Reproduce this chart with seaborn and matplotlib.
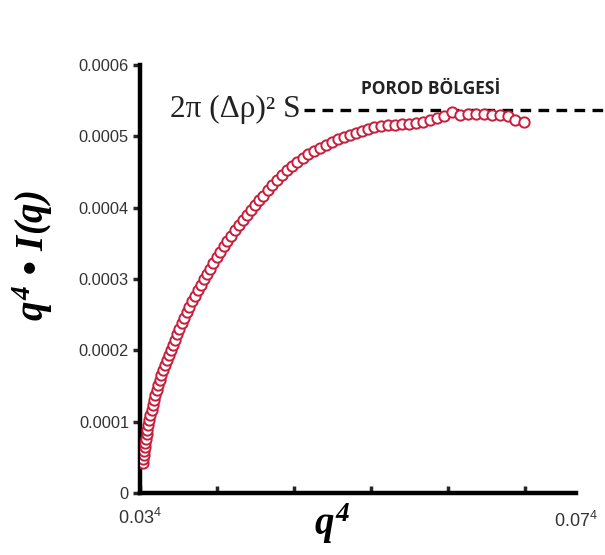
import numpy as np
import pandas as pd
import matplotlib
matplotlib.use("Agg")
import matplotlib.pyplot as plt
import seaborn as sns

# ---- data (x in tick-spacing units from 0.03^4, y = q^4 * I(q)) ----
x_vals = [0.039, 0.039, 0.052, 0.052, 0.065, 0.065, 0.078, 0.091, 0.091, 0.104,
          0.117, 0.130, 0.156, 0.169, 0.182, 0.195, 0.221, 0.234, 0.260, 0.273,
          0.299, 0.325, 0.351, 0.377, 0.403, 0.429, 0.455, 0.481, 0.506, 0.545,
          0.571, 0.610, 0.636, 0.675, 0.714, 0.753, 0.792, 0.831, 0.870, 0.909,
          0.948, 1.000, 1.039, 1.091, 1.130, 1.182, 1.234, 1.286, 1.338, 1.390,
          1.442, 1.494, 1.545, 1.597, 1.662, 1.714, 1.779, 1.844, 1.909, 1.974,
          2.039, 2.117, 2.182, 2.260, 2.338, 2.416, 2.494, 2.571, 2.649, 2.727,
          2.805, 2.883, 2.961, 3.039, 3.130, 3.221, 3.312, 3.403, 3.494, 3.584,
          3.675, 3.766, 3.857, 3.948, 4.052, 4.156, 4.260, 4.364, 4.468, 4.571,
          4.675, 4.779, 4.870, 4.987]
y_vals = [0.420e-4, 0.476e-4, 0.531e-4, 0.587e-4, 0.643e-4, 0.699e-4, 0.755e-4, 0.825e-4, 0.881e-4, 0.951e-4,
          1.021e-4, 1.091e-4, 1.161e-4, 1.231e-4, 1.301e-4, 1.371e-4, 1.441e-4, 1.510e-4, 1.580e-4, 1.650e-4,
          1.720e-4, 1.790e-4, 1.860e-4, 1.930e-4, 2.000e-4, 2.070e-4, 2.140e-4, 2.224e-4, 2.294e-4, 2.378e-4,
          2.448e-4, 2.531e-4, 2.601e-4, 2.685e-4, 2.755e-4, 2.839e-4, 2.909e-4, 2.993e-4, 3.077e-4, 3.147e-4,
          3.231e-4, 3.315e-4, 3.385e-4, 3.469e-4, 3.538e-4, 3.608e-4, 3.692e-4, 3.762e-4, 3.832e-4, 3.902e-4,
          3.972e-4, 4.042e-4, 4.112e-4, 4.168e-4, 4.252e-4, 4.322e-4, 4.392e-4, 4.462e-4, 4.531e-4, 4.587e-4,
          4.643e-4, 4.699e-4, 4.755e-4, 4.797e-4, 4.839e-4, 4.881e-4, 4.923e-4, 4.965e-4, 4.993e-4, 5.021e-4,
          5.049e-4, 5.077e-4, 5.105e-4, 5.133e-4, 5.147e-4, 5.161e-4, 5.161e-4, 5.175e-4, 5.175e-4, 5.189e-4,
          5.203e-4, 5.231e-4, 5.259e-4, 5.287e-4, 5.343e-4, 5.301e-4, 5.315e-4, 5.315e-4, 5.315e-4, 5.301e-4,
          5.301e-4, 5.287e-4, 5.231e-4, 5.203e-4]
porod_level = 0.000537
y_ticks = [0, 0.0001, 0.0002, 0.0003, 0.0004, 0.0005, 0.0006]
y_tick_labels = ["0", "0.0001", "0.0002", "0.0003", "0.0004", "0.0005", "0.0006"]
x_start_label = r"$\mathsf{0.03^4}$"
x_end_label = r"$\mathsf{0.07^4}$"
porod_text = "POROD BÖLGESİ"
formula_text = "2π (Δρ)² S"

df = pd.DataFrame({"x": x_vals, "y": y_vals})

sns.set_theme(style="white")
plt.rcParams["font.family"] = ["Liberation Sans", "DejaVu Sans"]
plt.rcParams["mathtext.fontset"] = "custom"
plt.rcParams["mathtext.rm"] = "Liberation Serif:bold:italic"
plt.rcParams["mathtext.it"] = "Liberation Serif:bold:italic"
plt.rcParams["mathtext.bf"] = "Liberation Serif:bold:italic"
plt.rcParams["mathtext.sf"] = "Liberation Sans"

fig = plt.figure(figsize=(6.05, 5.55), dpi=100)
ax = fig.add_axes([140 / 605, 1 - 493 / 555, (576 - 140) / 605, (493 - 65) / 555])

red = "#c81e3c"
ax.axhline(porod_level, xmin=(304 - 140) / (576 - 140), xmax=(605 - 140) / (576 - 140),
           color="black", lw=2.4, ls=(0, (3.2, 2.2)), clip_on=False, zorder=1)
sns.scatterplot(data=df, x="x", y="y", ax=ax, marker="o", s=55,
                facecolor="white", edgecolor=red, linewidth=1.4, zorder=3, legend=False)

ax.set_xlim(0, 5.66)
ax.set_ylim(0, 0.0006)

for s in ["top", "right"]:
    ax.spines[s].set_visible(False)
for s in ["left", "bottom"]:
    ax.spines[s].set_linewidth(3.2)
    ax.spines[s].set_color("black")

ax.set_yticks(y_ticks)
ax.set_yticklabels(y_tick_labels)
ax.tick_params(axis="y", direction="out", length=5, width=2.5, pad=3,
               labelsize=11.8, labelcolor="#333333", left=True)
ax.set_yticks([0.0006], minor=True)
ax.tick_params(axis="y", which="minor", direction="in", length=9, width=3, left=True)

ax.set_xticks([0, 1, 2, 3, 4, 5])
ax.set_xticklabels([x_start_label, "", "", "", "", ""])
ax.set_xticks([5.66], minor=True)
ax.set_xticklabels([x_end_label], minor=True)
ax.tick_params(axis="x", which="major", direction="in", length=5, width=2.5, pad=11,
               labelsize=13, labelcolor="#333333", bottom=True)
ax.tick_params(axis="x", which="minor", length=0, pad=13, labelsize=13,
               labelcolor="#333333", bottom=True)

ax.set_xlabel(r"$q^{4}$", fontsize=28, color="black")
ax.xaxis.set_label_coords(0.44, -0.02)
ax.set_ylabel(r"$q^{4}$ • $I(q)$", fontsize=28, color="black", fontweight="bold")
ax.yaxis.set_label_coords(-0.195, 0.555)

ax.text(2.08, porod_level, formula_text, ha="right", va="center",
        fontsize=22.5, family="Liberation Serif", color="#222222")
ax.text(3.77, 0.000567, porod_text, ha="center", va="center",
        fontsize=12.5, family="Open Sans", fontweight="bold", color="#222222")

fig.savefig("out.png", dpi=100, facecolor="white")
